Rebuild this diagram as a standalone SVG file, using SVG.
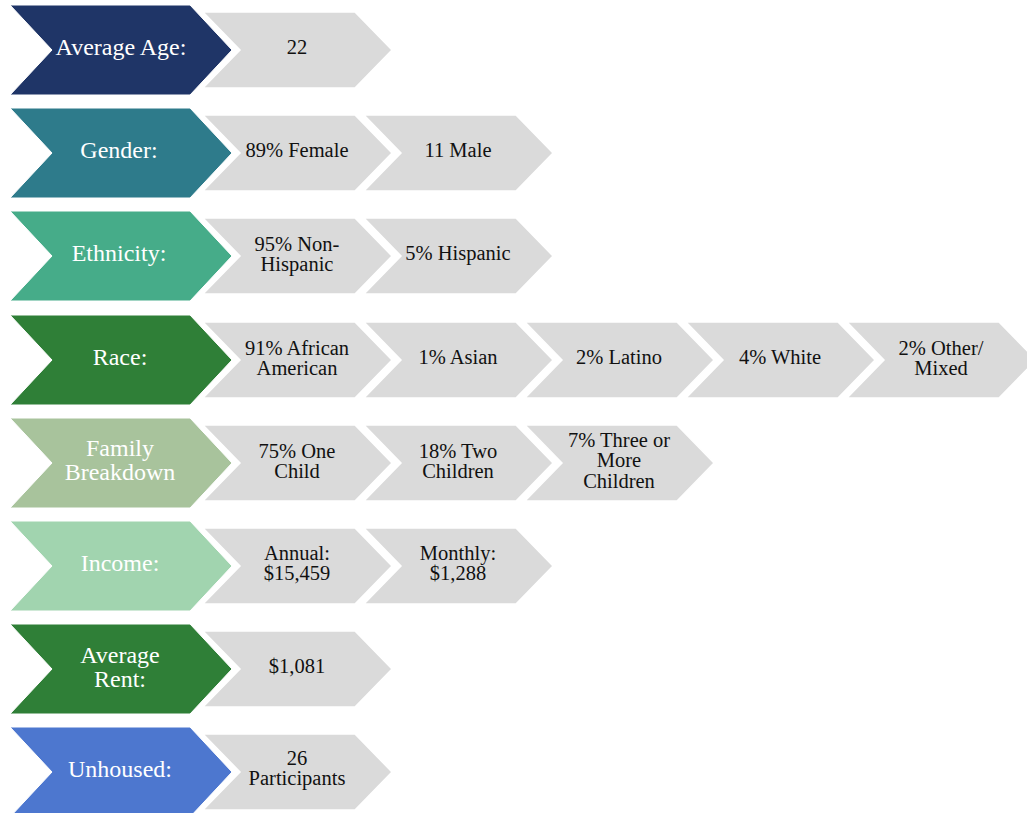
<svg xmlns="http://www.w3.org/2000/svg" xmlns:xlink="http://www.w3.org/1999/xlink" width="1027" height="813" viewBox="0 0 1027 813">
<style>
.lbl{font-family:"Liberation Serif","Times New Roman",serif;font-size:24px;fill:#ffffff;text-anchor:middle}
.val{font-family:"Liberation Serif","Times New Roman",serif;font-size:20.5px;fill:#111111;text-anchor:middle}
.box{fill:#dadada;stroke:#ffffff;stroke-width:1.5}
.head{stroke:#ffffff;stroke-width:1}
</style>
<defs>
<path id="chev" d="M0,0 H180 L222,45 L180,90 H0 L42,45 Z"/>
<path id="gbox" d="M0,0 H152 L189,38 L152,76 H0 L37,38 Z"/>
</defs>
<rect width="1027" height="813" fill="#ffffff"/>
<g id="connectors"></g>

<g id="row-age">
<use xlink:href="#chev" class="head" x="10" y="5" fill="#1f3567"/>
<text class="lbl" x="121" y="55">Average Age:</text>
<use xlink:href="#gbox" class="box" x="203" y="12"/>
<text class="val" x="297" y="54">22</text>
</g>

<g id="row-gender">
<use xlink:href="#chev" class="head" x="10" y="108" fill="#2e7b8b"/>
<text class="lbl" x="119" y="158">Gender:</text>
<use xlink:href="#gbox" class="box" x="203" y="115"/>
<text class="val" x="297" y="157">89% Female</text>
<use xlink:href="#gbox" class="box" x="364" y="115"/>
<text class="val" x="458" y="157">11 Male</text>
</g>

<g id="row-ethnicity">
<use xlink:href="#chev" class="head" x="10" y="211" fill="#46ac89"/>
<text class="lbl" x="119" y="261">Ethnicity:</text>
<use xlink:href="#gbox" class="box" x="203" y="218"/>
<text class="val" x="297" y="251">95% Non-</text>
<text class="val" x="297" y="271">Hispanic</text>
<use xlink:href="#gbox" class="box" x="364" y="218"/>
<text class="val" x="458" y="260">5% Hispanic</text>
</g>

<g id="row-race">
<use xlink:href="#chev" class="head" x="10" y="315" fill="#2f7f37"/>
<text class="lbl" x="120" y="365">Race:</text>
<use xlink:href="#gbox" class="box" x="203" y="322"/>
<text class="val" x="297" y="355">91% African</text>
<text class="val" x="297" y="375">American</text>
<use xlink:href="#gbox" class="box" x="364" y="322"/>
<text class="val" x="458" y="364">1% Asian</text>
<use xlink:href="#gbox" class="box" x="525" y="322"/>
<text class="val" x="619" y="364">2% Latino</text>
<use xlink:href="#gbox" class="box" x="686" y="322"/>
<text class="val" x="780" y="364">4% White</text>
<use xlink:href="#gbox" class="box" x="847" y="322"/>
<text class="val" x="941" y="355">2% Other/</text>
<text class="val" x="941" y="375">Mixed</text>
</g>

<g id="row-family">
<use xlink:href="#chev" class="head" x="10" y="418" fill="#a8c39c"/>
<text class="lbl" x="120" y="456">Family</text>
<text class="lbl" x="120" y="480">Breakdown</text>
<use xlink:href="#gbox" class="box" x="203" y="425"/>
<text class="val" x="297" y="458">75% One</text>
<text class="val" x="297" y="478">Child</text>
<use xlink:href="#gbox" class="box" x="364" y="425"/>
<text class="val" x="458" y="458">18% Two</text>
<text class="val" x="458" y="478">Children</text>
<use xlink:href="#gbox" class="box" x="525" y="425"/>
<text class="val" x="619" y="447">7% Three or</text>
<text class="val" x="619" y="467">More</text>
<text class="val" x="619" y="488">Children</text>
</g>

<g id="row-income">
<use xlink:href="#chev" class="head" x="10" y="521" fill="#a1d4af"/>
<text class="lbl" x="120" y="571">Income:</text>
<use xlink:href="#gbox" class="box" x="203" y="528"/>
<text class="val" x="297" y="560">Annual:</text>
<text class="val" x="297" y="580">$15,459</text>
<use xlink:href="#gbox" class="box" x="364" y="528"/>
<text class="val" x="458" y="560">Monthly:</text>
<text class="val" x="458" y="580">$1,288</text>
</g>

<g id="row-rent">
<use xlink:href="#chev" class="head" x="10" y="624" fill="#2f7f37"/>
<text class="lbl" x="120" y="663">Average</text>
<text class="lbl" x="120" y="687">Rent:</text>
<use xlink:href="#gbox" class="box" x="203" y="631"/>
<text class="val" x="297" y="673">$1,081</text>
</g>

<g id="row-unhoused">
<use xlink:href="#chev" class="head" x="10" y="727" fill="#4d77cf"/>
<text class="lbl" x="120" y="777">Unhoused:</text>
<use xlink:href="#gbox" class="box" x="203" y="734"/>
<text class="val" x="297" y="765">26</text>
<text class="val" x="297" y="785">Participants</text>
</g>
</svg>
